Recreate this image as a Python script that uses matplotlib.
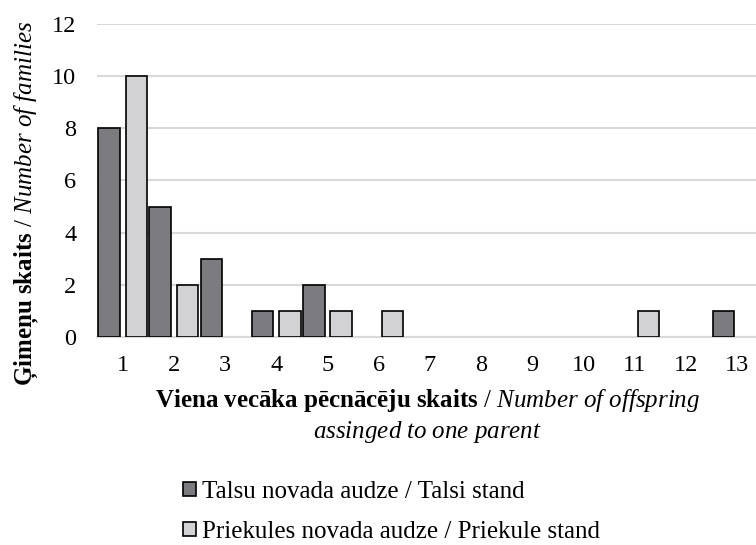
import matplotlib
matplotlib.use("Agg")
import matplotlib.pyplot as plt
import numpy as np
from matplotlib.patches import Patch

categories = list(range(1, 14))
talsi = [8, 5, 3, 1, 2, 0, 0, 0, 0, 0, 0, 0, 1]
priekule = [10, 2, 0, 1, 1, 1, 0, 0, 0, 0, 1, 0, 0]
yticks = [0, 2, 4, 6, 8, 10, 12]
series_names = ["Talsu novada audze / Talsi stand",
                "Priekules novada audze / Priekule stand"]

plt.rcParams['font.family'] = ['Liberation Serif', 'DejaVu Serif']
plt.rcParams['mathtext.fontset'] = 'custom'
plt.rcParams['mathtext.rm'] = 'Liberation Serif'
plt.rcParams['mathtext.it'] = 'Liberation Serif:italic'
plt.rcParams['mathtext.bf'] = 'Liberation Serif:bold'

dark = '#7b7b80'
light = '#d2d2d4'

fig = plt.figure(figsize=(7.56, 5.45), dpi=100)
ax = fig.add_axes([0.1283, 0.3817, 0.8807, 0.5743])

x = np.array(categories, dtype=float)
t = np.array(talsi)
p = np.array(priekule)
w = 0.42
off = 0.2675
mt = t > 0
mp = p > 0
ax.bar(x[mt] - off, t[mt], width=w, color=dark, edgecolor='black', linewidth=1.2, zorder=3)
ax.bar(x[mp] + off, p[mp], width=w, color=light, edgecolor='black', linewidth=1.2, zorder=3)

ax.set_xlim(0.5, 13.5)
ax.set_ylim(0, 12)
ax.set_yticks(yticks)
ax.set_xticks(categories)
ax.tick_params(axis='both', length=0, labelsize=17.5, colors='black')
ax.tick_params(axis='x', pad=13)
ax.tick_params(axis='y', pad=15)
ax.grid(axis='y', color='#d9d9d9', linewidth=1.5, zorder=0)
for s in ['top', 'right', 'left']:
    ax.spines[s].set_visible(False)
ax.spines['bottom'].set_color('#d9d9d9')
ax.spines['bottom'].set_linewidth(1.5)

fig.text(0.036, 0.626,
         r"$\mathbf{Ģimeņu\ skaits}$ / $\mathit{Number\ of\ families}$",
         rotation=90, ha='center', va='center', fontsize=18)
fig.text(0.5655, 1 - 401 / 545,
         r"$\mathbf{Viena\ vecāka\ pēcnācēju\ skaits}$ / $\mathit{Number\ of\ offspring}$",
         ha='center', va='center', fontsize=18)
fig.text(0.5655, 1 - 432 / 545, r"$\mathit{assinged\ to\ one\ parent}$",
         ha='center', va='center', fontsize=18)

handles = [Patch(facecolor=dark, edgecolor='black', linewidth=1.2),
           Patch(facecolor=light, edgecolor='black', linewidth=1.2)]
fig.legend(handles, series_names, loc='upper left',
           bbox_to_anchor=(183 / 756, 1 - 481 / 545), frameon=False, fontsize=18,
           handlelength=0.52, handleheight=0.52, handletextpad=0.24,
           labelspacing=0.72, borderaxespad=0, borderpad=0)

fig.savefig("out.png", dpi=100)
